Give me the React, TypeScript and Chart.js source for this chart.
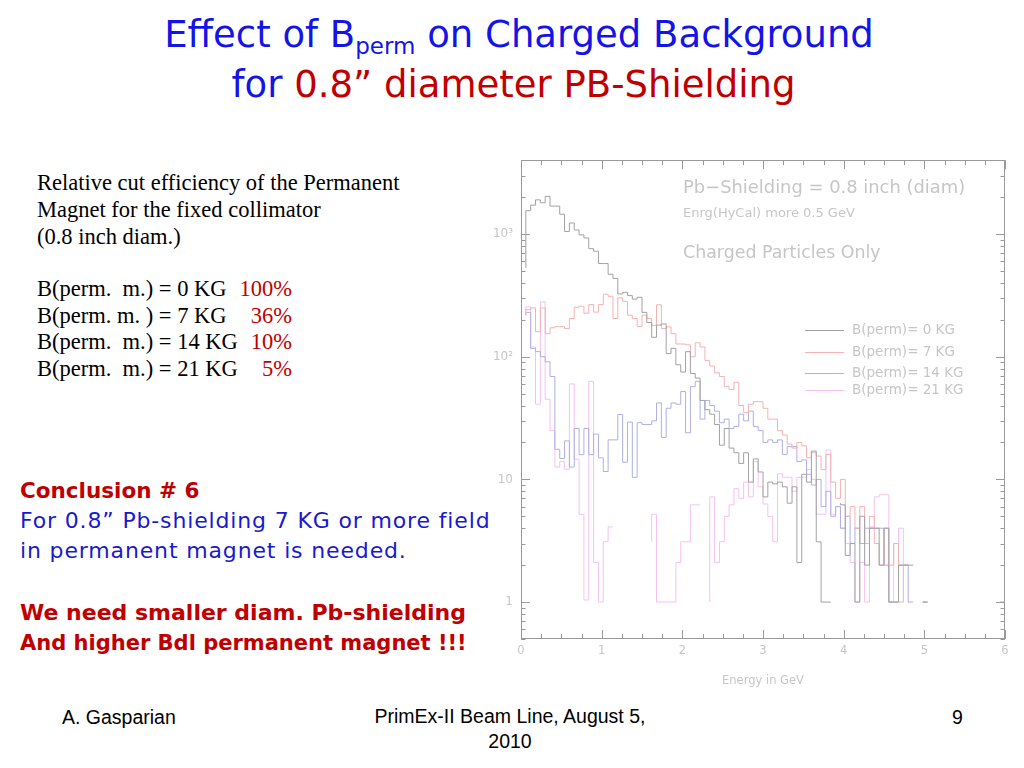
import React, { useEffect, useRef } from "react";
import { Chart, registerables } from "chart.js";

Chart.register(...registerables);

// ---------- DATA ----------
const BIN_WIDTH_GEV = 0.06; // 100 bins over 0..6 GeV
const X_MIN = 0;
const X_MAX = 6;
const Y_MIN = 0.5;
const Y_MAX = 4000;
const Y_LABEL_TICKS = [1, 10, 100, 1000];
const SERIES_LABELS = ["B(perm)= 0 KG", "B(perm)= 7 KG", "B(perm)= 14 KG", "B(perm)= 21 KG"];
const SERIES_COLORS = ["#a2a2a2", "#f4b2b2", "#afafe6", "#f4c2f0"];

const counts0KG = [
  0, 530, 1550, 1720, 1900, 1800, 2030, 1690, 1690, 1450,
  1050, 1230, 1080, 985, 930, 760, 725, 575, 575, 470,
  435, 325, 335, 315, 295, 305, 230, 190, 144, 181,
  185, 106, 117, 86, 75, 110, 73, 67, 44, 37,
  34, 28, 19, 26, 18, 16.5, 13.5, 16.5, 9.5, 14.7,
  11.5, 7.2, 9.5, 9.2, 9.5, 8.7, 6.4, 8.7, 2.1, 11,
  9.5, 17, 3.1, 1, 1, 0, 6.4, 6.2, 2.4, 3,
  1, 5, 2, 4, 4, 2, 4, 1, 1, 2,
  2, 2, 0, 1, 1, 0, 0, 0, 0, 0,
  0, 0, 0, 0, 0, 0, 0, 0, 0, 0,
];

const counts7KG = [
  0, 222, 242, 250, 160, 250, 154, 172, 176, 176,
  170, 205, 253, 258, 226, 266, 231, 266, 323, 311,
  205, 302, 283, 218, 205, 176, 218, 205, 180, 265,
  170, 175, 154, 127, 127, 125, 100, 130, 120, 93,
  84, 74, 69, 57, 54, 62, 40, 35, 41, 43,
  43, 38, 31, 31, 25, 23, 19.4, 18, 20, 18.8,
  15, 16.5, 15.5, 12, 16, 9.5, 7, 10, 5, 6,
  4, 6, 3, 5, 3, 2, 4, 2, 3, 1,
  2, 0, 0, 0, 0, 0, 0, 0, 0, 0,
  0, 0, 0, 0, 0, 0, 0, 0, 0, 0,
];

const counts14KG = [
  0, 217, 230, 117, 110, 100, 91, 69, 17.6, 14.8,
  20.6, 12.6, 26, 15.9, 26, 15.9, 23.4, 15, 11.6, 21,
  21, 33.8, 13.8, 29.3, 10.4, 29, 28, 28, 30, 42,
  22, 38, 42, 41, 52, 24, 57, 63, 31, 44,
  40, 36, 29, 31, 26, 27, 34, 30, 36, 27,
  25, 20, 21, 20, 21, 16, 18.5, 18.5, 14, 14.4,
  11, 9, 10, 6, 8, 5, 6, 4, 5, 3,
  4, 3, 4, 4, 4, 4, 2, 1, 1, 2,
  2, 1, 0, 1, 1, 0, 0, 0, 0, 0,
  0, 0, 0, 0, 0, 0, 0, 0, 0, 1,
];

const counts21KG = [
  0, 240, 255, 120, 41, 280, 45, 25, 12.6, 14,
  12.1, 60, 14.6, 5.2, 1.04, 63, 2.1, 1, 3.1, 4.1,
  0, 2.1, 0, 5.2, 0, 2.1, 0, 3.1, 5.2, 1,
  1, 1, 1, 2.1, 3.1, 3.1, 6.2, 6.2, 0, 1,
  7.2, 2.1, 3.1, 5, 6.2, 8.4, 7, 9.5, 7.2, 14,
  8.7, 6.3, 5, 3.1, 11.1, 10.4, 10.4, 8, 10.4, 10.4,
  12, 10, 5.2, 5.2, 17.4, 5.2, 6, 4, 3, 2.1,
  1, 2.1, 1, 4.1, 7.2, 7.5, 7.5, 1, 3, 4,
  2, 0, 0, 1, 1, 0, 0, 0, 0, 0,
  0, 0, 0, 0, 0, 0, 0, 0, 0, 1,
];

const SERIES_COUNTS = [counts0KG, counts7KG, counts14KG, counts21KG];

const TEXT_LINES_INFO = [
  "Relative cut efficiency of the Permanent",
  "Magnet for the fixed collimator",
  "(0.8 inch diam.)",
];
const B_LABELS = ["B(perm.  m.) = 0 KG", "B(perm. m. ) = 7 KG", "B(perm.  m.) = 14 KG", "B(perm.  m.) = 21 KG"];
const B_EFFICIENCIES = ["100%", "36%", "10%", "5%"];

// histogram outline: points at bin lower edges, plus closing point at upper edge
function toSteps(counts: number[]) {
  const pts = counts.map((v, i) => ({ x: i * BIN_WIDTH_GEV, y: v }));
  pts.push({ x: counts.length * BIN_WIDTH_GEV, y: counts[counts.length - 1] });
  return pts;
}

const CHART_TEXT = "#c6c6c6";
const FRAME = "#9a9a9a";
const CFONT = "'DejaVu Sans'";

const framePlugin = {
  id: "frameAndText",
  afterDatasetsDraw(chart: any) {
    const { ctx, chartArea: a, scales } = chart;
    const x = scales.x;
    const y = scales.y;
    ctx.save();
    ctx.strokeStyle = FRAME;
    ctx.lineWidth = 1;
    ctx.strokeRect(Math.round(a.left) + 0.5, Math.round(a.top) + 0.5, Math.round(a.width) - 1, Math.round(a.height) - 1);
    ctx.beginPath();
    // x ticks (every 0.25 GeV, longer on integers), top & bottom, pointing inward
    for (let k = 0; k <= 24; k++) {
      const v = X_MIN + k * 0.25;
      const px = Math.round(x.getPixelForValue(v)) + 0.5;
      const len = k % 4 === 0 ? 9 : 5;
      ctx.moveTo(px, a.bottom);
      ctx.lineTo(px, a.bottom - len);
      ctx.moveTo(px, a.top);
      ctx.lineTo(px, a.top + len);
    }
    // y log ticks, left & right
    for (let d = -1; d <= 3; d++) {
      for (let m = 1; m <= 9; m++) {
        const v = m * Math.pow(10, d);
        if (v < Y_MIN || v > Y_MAX) continue;
        const py = Math.round(y.getPixelForValue(v)) + 0.5;
        const len = m === 1 ? 9 : 4.5;
        ctx.moveTo(a.left, py);
        ctx.lineTo(a.left + len, py);
        ctx.moveTo(a.right, py);
        ctx.lineTo(a.right - len, py);
      }
    }
    ctx.stroke();

    // annotations
    ctx.fillStyle = CHART_TEXT;
    ctx.textBaseline = "middle";
    ctx.textAlign = "left";
    ctx.font = `17.9px ${CFONT}`;
    ctx.fillText("Pb\u2212Shielding = 0.8 inch (diam)", a.left + 162, a.top + 28);
    ctx.font = `13px ${CFONT}`;
    ctx.fillText("Enrg(HyCal) more 0.5 GeV", a.left + 162, a.top + 53);
    ctx.font = `17.4px ${CFONT}`;
    ctx.fillText("Charged Particles Only", a.left + 162, a.top + 93);

    // legend
    ctx.font = `13.5px ${CFONT}`;
    const legY = [170, 192, 213, 230];
    chart.data.datasets.forEach((ds: any, i: number) => {
      const ly = Math.round(a.top + legY[i]) + 0.5;
      ctx.strokeStyle = ds.borderColor;
      ctx.beginPath();
      ctx.moveTo(a.left + 284, ly);
      ctx.lineTo(a.left + 323, ly);
      ctx.stroke();
      ctx.fillStyle = CHART_TEXT;
      ctx.fillText(ds.label, a.left + 331, ly);
    });
    ctx.restore();
  },
};

function fmtY(v: number) {
  if (v === 1) return "1";
  if (v === 10) return "10";
  if (v === 100) return "10\u00B2";
  if (v === 1000) return "10\u00B3";
  return "";
}

function HistChart() {
  const ref = useRef<HTMLCanvasElement | null>(null);
  useEffect(() => {
    if (!ref.current) return;
    const chart = new Chart(ref.current, {
      type: "line",
      data: {
        datasets: SERIES_COUNTS.map((c, i) => ({
          label: SERIES_LABELS[i],
          data: toSteps(c),
          borderColor: SERIES_COLORS[i],
          backgroundColor: SERIES_COLORS[i],
          borderWidth: 1,
          pointRadius: 0,
          stepped: "after" as const,
          fill: false,
          tension: 0,
        })),
      },
      options: {
        responsive: false,
        animation: false,
        layout: { padding: { top: 10, right: 10, left: 0, bottom: 0 } },
        plugins: { legend: { display: false }, tooltip: { enabled: false } },
        scales: {
          x: {
            type: "linear",
            min: X_MIN,
            max: X_MAX,
            grid: { display: false, drawTicks: false },
            border: { display: false },
            ticks: { stepSize: 1, color: CHART_TEXT, font: { family: "DejaVu Sans", size: 11.5 }, padding: 5 },
            title: {
              display: true,
              text: "Energy in GeV",
              color: CHART_TEXT,
              font: { family: "DejaVu Sans", size: 11.5 },
              padding: { top: 0, bottom: 12 },
            },
            afterFit: (s: any) => {
              s.height = 61;
            },
          },
          y: {
            type: "logarithmic",
            min: Y_MIN,
            max: Y_MAX,
            grid: { display: false, drawTicks: false },
            border: { display: false },
            afterBuildTicks: (s: any) => {
              s.ticks = Y_LABEL_TICKS.map((v) => ({ value: v }));
            },
            ticks: {
              color: CHART_TEXT,
              font: { family: "DejaVu Sans", size: 12 },
              padding: 8,
              autoSkip: false,
              callback: (v: any) => fmtY(Number(v)),
            },
            afterFit: (s: any) => {
              s.width = 51;
            },
          },
        },
      },
      plugins: [framePlugin],
    });
    return () => chart.destroy();
  }, []);
  return (
    <canvas
      ref={ref}
      width={545}
      height={555}
      style={{ position: "absolute", left: 470, top: 145, width: 545, height: 555 }}
    />
  );
}

const RED = "#c00000";
const BLUE = "#1414e6";
const CBLUE = "#1a1acc";
const COMIC = "'DejaVu Sans', sans-serif";
const SERIF = "'Liberation Serif', serif";
const ARIAL = "'Liberation Sans', Arial, sans-serif";

export default function App() {
  const abs = (left: number, top: number, extra: React.CSSProperties = {}): React.CSSProperties => ({
    position: "absolute",
    left,
    top,
    whiteSpace: "pre",
    ...extra,
  });
  return (
    <div
      style={{
        position: "fixed",
        left: 0,
        top: 0,
        width: 1024,
        height: 768,
        background: "#ffffff",
        overflow: "hidden",
      }}
    >
      {/* Title */}
      <div style={abs(0, 12, { width: 1038, textAlign: "center", fontFamily: COMIC, fontSize: 37, lineHeight: "46px", color: BLUE })}>
        Effect of B<sub style={{ fontSize: 23, verticalAlign: "-7px" }}>perm</sub> on Charged Background
      </div>
      <div style={abs(0, 62, { width: 1027, textAlign: "center", fontFamily: COMIC, fontSize: 37, lineHeight: "46px", color: BLUE })}>
        for <span style={{ color: RED }}>0.8” diameter PB-Shielding</span>
      </div>

      {/* Left info text */}
      {TEXT_LINES_INFO.map((t, i) => (
        <div key={t} style={abs(37, 170 + i * 27, { fontFamily: SERIF, fontSize: 22.5, lineHeight: "26px", color: "#000" })}>
          {t}
        </div>
      ))}
      {B_LABELS.map((t, i) => (
        <React.Fragment key={t}>
          <div style={abs(37, 276 + i * 26.5, { fontFamily: SERIF, fontSize: 22.5, lineHeight: "26px", color: "#000" })}>
            {t}
          </div>
          <div style={abs(192, 276 + i * 26.5, { width: 100, textAlign: "right", fontFamily: SERIF, fontSize: 22.5, lineHeight: "26px", color: RED })}>
            {B_EFFICIENCIES[i]}
          </div>
        </React.Fragment>
      ))}

      {/* Conclusion */}
      <div style={abs(20, 477, { fontFamily: COMIC, fontSize: 21.5, fontWeight: "bold", lineHeight: "28px", color: RED })}>Conclusion # 6</div>
      <div style={abs(20, 507, { fontFamily: COMIC, fontSize: 22, letterSpacing: "0.85px", lineHeight: "28px", color: CBLUE })}>For 0.8” Pb-shielding 7 KG or more field</div>
      <div style={abs(20, 537, { fontFamily: COMIC, fontSize: 22, letterSpacing: "0.85px", lineHeight: "28px", color: CBLUE })}>in permanent magnet is needed.</div>
      <div style={abs(20, 599, { fontFamily: COMIC, fontSize: 22, fontWeight: "bold", lineHeight: "28px", color: RED })}>We need smaller diam. Pb-shielding</div>
      <div style={abs(20, 629, { fontFamily: COMIC, fontSize: 21, fontWeight: "bold", lineHeight: "28px", color: RED })}>And higher Bdl permanent magnet !!!</div>

      {/* Chart */}
      <HistChart />

      {/* Footer */}
      <div style={abs(62, 704, { fontFamily: ARIAL, fontSize: 19.5, lineHeight: "26px", color: "#000" })}>A. Gasparian</div>
      <div style={abs(310, 704, { width: 400, textAlign: "center", fontFamily: ARIAL, fontSize: 19.5, lineHeight: "25px", color: "#000" })}>
        PrimEx-II Beam Line, August 5,
        {"\n"}2010
      </div>
      <div style={abs(952, 704, { fontFamily: ARIAL, fontSize: 19.5, lineHeight: "26px", color: "#000" })}>9</div>
    </div>
  );
}
